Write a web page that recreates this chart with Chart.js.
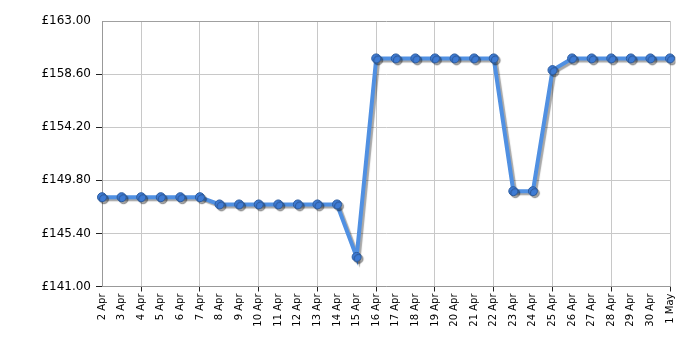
<!DOCTYPE html>
<html>
<head>
<meta charset="utf-8">
<script src="https://cdn.jsdelivr.net/npm/chart.js@4"></script>
<style>
  html, body { margin: 0; padding: 0; background: #fff; }
</style>
</head>
<body>
<canvas id="priceChart" width="700" height="350"></canvas>
<script>
const dates = ["2 Apr", "3 Apr", "4 Apr", "5 Apr", "6 Apr", "7 Apr", "8 Apr", "9 Apr", "10 Apr",
    "11 Apr", "12 Apr", "13 Apr", "14 Apr", "15 Apr", "16 Apr", "17 Apr", "18 Apr", "19 Apr",
    "20 Apr", "21 Apr", "22 Apr", "23 Apr", "24 Apr", "25 Apr", "26 Apr", "27 Apr", "28 Apr",
    "29 Apr", "30 Apr", "1 May"];
const prices = [148.40, 148.40, 148.40, 148.40, 148.40, 148.40, 147.80, 147.80, 147.80,
    147.80, 147.80, 147.80, 147.80, 143.45, 159.90, 159.90, 159.90, 159.90,
    159.90, 159.90, 159.90, 148.90, 148.90, 158.93, 159.90, 159.90, 159.90,
    159.90, 159.90, 159.90];
const yTicks = [141.00, 145.40, 149.80, 154.20, 158.60, 163.00];

// grey drop shadow under line and points
const shadowPlugin = {
    id: "shadow",
    beforeDatasetsDraw(chart) {
        const ctx = chart.ctx;
        ctx.save();
        ctx.shadowColor = "rgba(0, 0, 0, 0.35)";
        ctx.shadowOffsetX = 2;
        ctx.shadowOffsetY = 2;
        ctx.shadowBlur = 1;
    },
    afterDatasetsDraw(chart) {
        chart.ctx.restore();
    }
};

const showGrid = (i) => i === 0 || i % 3 === 2;

new Chart(document.getElementById("priceChart"), {
    type: "line",
    data: {
        labels: dates,
        datasets: [{
            data: prices,
            borderColor: "#5090e2",
            borderWidth: 4,
            pointRadius: 4.5,
            pointHoverRadius: 4.5,
            pointBackgroundColor: "#3e7bd4",
            pointBorderColor: "#2d5c9e",
            pointBorderWidth: 1,
            tension: 0
        }]
    },
    options: {
        responsive: false,
        animation: false,
        layout: { padding: { top: 21, right: 30, left: 0, bottom: 0 } },
        plugins: {
            legend: { display: false },
            tooltip: { enabled: false }
        },
        scales: {
            x: {
                offset: false,
                border: { color: "#999", width: 1 },
                grid: {
                    color: (c) => showGrid(c.index) ? "#c8c8c8" : "rgba(0,0,0,0)",
                    tickColor: (c) => showGrid(c.index) && c.index > 0 ? "#222" : "rgba(0,0,0,0)",
                    tickLength: 5
                },
                ticks: {
                    autoSkip: false,
                    minRotation: 90,
                    maxRotation: 90,
                    color: "#000",
                    padding: 2,
                    font: { family: "DejaVu Sans", size: 10 }
                },
                afterFit(axis) { axis.height = 63.5; }
            },
            y: {
                min: 141,
                max: 163,
                border: { color: "#999", width: 1 },
                grid: {
                    color: (c) => c.index === yTicks.length - 1 ? "#a0a0a0" : "#c8c8c8",
                    tickColor: (c) => c.index === yTicks.length - 1 ? "rgba(0,0,0,0)" : "#222",
                    tickLength: 6
                },
                afterBuildTicks(axis) {
                    axis.ticks = yTicks.map(v => ({ value: v }));
                },
                ticks: {
                    color: "#000",
                    padding: 5,
                    font: { family: "DejaVu Sans", size: 12 },
                    callback: (v) => "£" + Number(v).toFixed(2)
                },
                afterFit(axis) { axis.width = 102; }
            }
        }
    },
    plugins: [shadowPlugin]
});
</script>
</body>
</html>
